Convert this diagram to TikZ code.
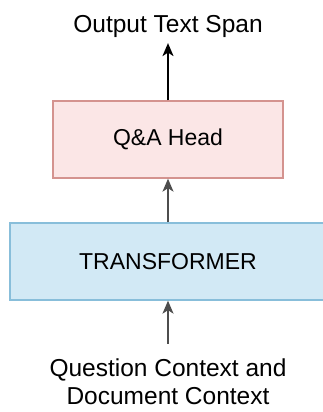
\documentclass[tikz,border=0pt]{standalone}
\usepackage{fontspec}
\setmainfont{Liberation Sans}
\usetikzlibrary{arrows.meta}
\definecolor{qafill}{HTML}{FBE6E6}
\definecolor{qadraw}{HTML}{D4938F}
\definecolor{trfill}{HTML}{D2E9F5}
\definecolor{trdraw}{HTML}{88BEDA}
\definecolor{arrgray}{HTML}{4D4D4D}
\begin{document}
\begin{tikzpicture}[x=1pt,y=1pt,
  lbl/.style={font=\fontsize{24.5}{28}\selectfont, inner sep=0pt, outer sep=0pt, align=center},
  boxqa/.style={draw=qadraw, fill=qafill, line width=1.3pt, minimum width=230pt, minimum height=77pt, inner sep=0pt, font=\fontsize{23}{29}\selectfont},
  boxtr/.style={draw=trdraw, fill=trfill, line width=1.3pt, minimum width=316pt, minimum height=77pt, inner sep=0pt, font=\fontsize{23}{29}\selectfont},
  arr/.style={line width=1.8pt, -{Stealth[length=13pt,width=11pt,inset=3.5pt]}}
]
\useasboundingbox (0,0) rectangle (323,-412);
\node[boxqa] (qa) at (168,-139.5) {Q\&A Head};
\node[boxtr] (tr) at (168,-261.5) {TRANSFORMER};
\node[lbl, anchor=base] (out) at (168,-33) {Output Text Span};
\node[lbl, anchor=base] (in) at (168,-404.5) {Question Context and\\Document Context};
\draw[arr, black, shorten >=5pt] (qa) -- (out);
\draw[arr, arrgray] (tr) -- (qa);
\draw[arr, arrgray, shorten <=15pt] (in) -- (tr);
\end{tikzpicture}
\end{document}
